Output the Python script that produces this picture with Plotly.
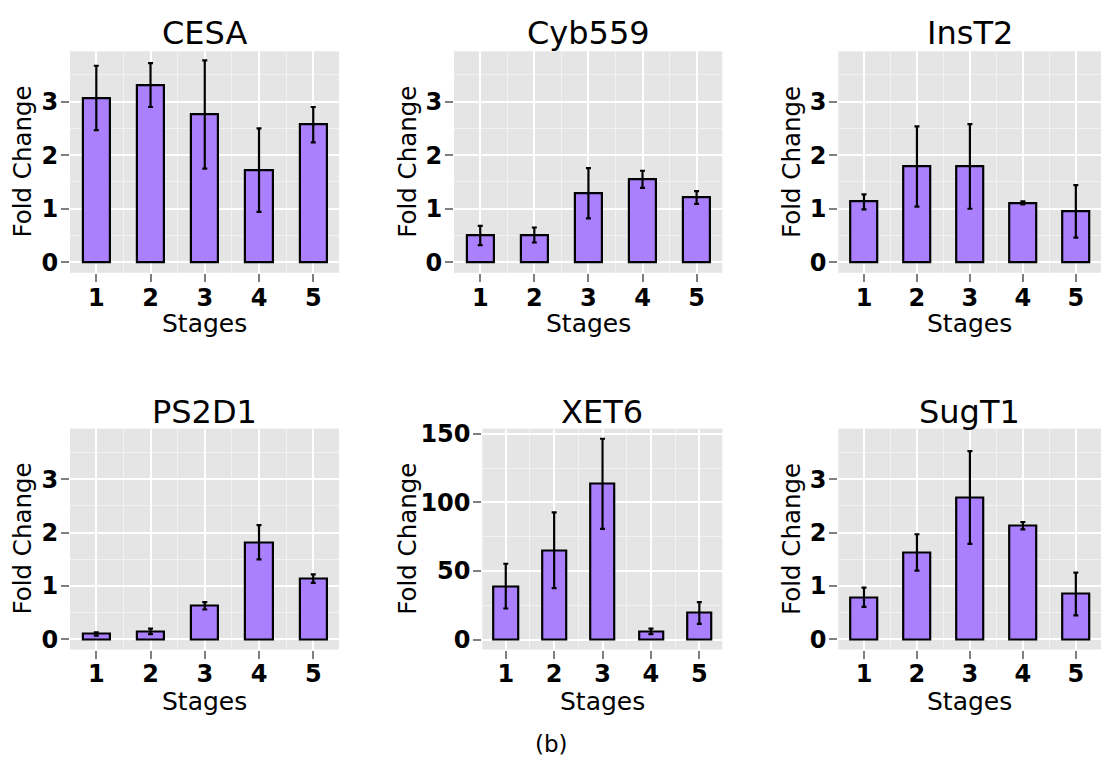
import plotly.graph_objects as go

stages = [1, 2, 3, 4, 5]
stage_labels = ["1", "2", "3", "4", "5"]
genes = ["CESA", "Cyb559", "InsT2", "PS2D1", "XET6", "SugT1"]

cesa_mean = [3.07, 3.31, 2.76, 1.72, 2.57]
cesa_err = [0.60, 0.41, 1.01, 0.78, 0.33]
cyb559_mean = [0.50, 0.51, 1.29, 1.55, 1.21]
cyb559_err = [0.18, 0.14, 0.47, 0.16, 0.12]
inst2_mean = [1.13, 1.79, 1.79, 1.11, 0.95]
inst2_err = [0.14, 0.75, 0.79, 0.03, 0.49]
ps2d1_mean = [0.10, 0.15, 0.63, 1.82, 1.14]
ps2d1_err = [0.03, 0.05, 0.07, 0.32, 0.08]
xet6_mean = [39.0, 65.1, 113.6, 6.0, 19.4]
xet6_err = [16.3, 27.6, 32.8, 2.0, 7.9]
sugt1_mean = [0.79, 1.63, 2.66, 2.13, 0.85]
sugt1_err = [0.18, 0.34, 0.87, 0.07, 0.40]

means = [cesa_mean, cyb559_mean, inst2_mean, ps2d1_mean, xet6_mean, sugt1_mean]
errs = [cesa_err, cyb559_err, inst2_err, ps2d1_err, xet6_err, sugt1_err]

small_ticks = [0, 1, 2, 3]
small_minor = [0.5, 1.5, 2.5, 3.5]
xet6_ticks = [0, 50, 100, 150]
xet6_minor = [25, 75, 125]

W, H = 1102, 768
FONT = "DejaVu Sans"
BAR = "#AA80FF"

# panel pixel boxes: (left, right, top, bottom)
boxes = [
    (70, 339, 44, 269),
    (454, 722.3, 44, 269),
    (838.3, 1101, 44, 269),
    (70, 339, 427.3, 651.7),
    (482.3, 722.3, 427.3, 651.7),
    (838.3, 1101, 427.3, 651.7),
]
yranges = [[-0.196, 3.94]] * 3 + [[-0.19, 3.95], [-7.2, 153.8], [-0.19, 3.95]]
ytickvals = [small_ticks] * 4 + [xet6_ticks, small_ticks]
yminor = [small_minor] * 4 + [xet6_minor, small_minor]
ylabel_x = [22.5, 406.7, 791, 22.5, 406.7, 791]

fig = go.Figure()
annotations = []
layout = {}
for i in range(6):
    l, r, t, b = boxes[i]
    sfx = "" if i == 0 else str(i + 1)
    fig.add_trace(go.Bar(
        x=stages, y=means[i], width=0.5,
        marker=dict(color=BAR, line=dict(color="black", width=2.2)),
        error_y=dict(type="data", array=errs[i], color="black", thickness=2.2, width=2.5),
        xaxis="x" + sfx, yaxis="y" + sfx, showlegend=False,
    ))
    layout["xaxis" + sfx] = dict(
        domain=[l / W, r / W], anchor="y" + sfx, range=[0.515, 5.475],
        tickmode="array", tickvals=stages, ticktext=stage_labels,
        ticks="outside", ticklen=8, tickwidth=2, tickcolor="#7F7F7F",
        ticklabelstandoff=-5,
        tickfont=dict(family=FONT, size=24, color="black", weight="bold"),
        showgrid=True, gridcolor="white", gridwidth=2, zeroline=False,
        showline=False, fixedrange=True,
        minor=dict(tickmode="array", tickvals=[1.5, 2.5, 3.5, 4.5], showgrid=True,
                   gridcolor="#F2F2F2", gridwidth=1, ticks=""),
    )
    layout["yaxis" + sfx] = dict(
        domain=[1 - b / H, 1 - t / H], anchor="x" + sfx, range=yranges[i],
        tickmode="array", tickvals=ytickvals[i],
        ticks="outside", ticklen=8, tickwidth=2, tickcolor="#7F7F7F",
        ticklabelstandoff=-2,
        tickfont=dict(family=FONT, size=24, color="black", weight="bold"),
        showgrid=True, gridcolor="white", gridwidth=2, zeroline=False,
        showline=False, fixedrange=True,
        minor=dict(tickmode="array", tickvals=yminor[i], showgrid=True,
                   gridcolor="#F2F2F2", gridwidth=1, ticks=""),
    )
    cx = (l + r) / 2
    title_y = 25 if i < 3 else 410
    stages_y = 321 if i < 3 else 705
    annotations.append(dict(text=genes[i], x=cx / W, y=1 - title_y / H, xref="paper", yref="paper",
                            showarrow=False, xanchor="center", yanchor="middle",
                            font=dict(family=FONT, size=32, color="black")))
    annotations.append(dict(text="Stages", x=cx / W, y=1 - stages_y / H, xref="paper", yref="paper",
                            showarrow=False, xanchor="center", yanchor="middle",
                            font=dict(family=FONT, size=25, color="black")))
    annotations.append(dict(text="Fold Change", x=ylabel_x[i] / W, y=1 - ((t + b) / 2) / H,
                            xref="paper", yref="paper", textangle=-90,
                            showarrow=False, xanchor="center", yanchor="middle",
                            font=dict(family=FONT, size=24.5, color="black")))

annotations.append(dict(text="(b)", x=551 / W, y=1 - 748 / H, xref="paper", yref="paper",
                        showarrow=False, xanchor="center", yanchor="middle",
                        font=dict(family=FONT, size=23, color="black")))

fig.update_layout(
    width=W, height=H, margin=dict(l=0, r=0, t=0, b=0),
    paper_bgcolor="white", plot_bgcolor="#E5E5E5",
    annotations=annotations, bargap=0, **layout,
)
fig.write_html("out.html")
